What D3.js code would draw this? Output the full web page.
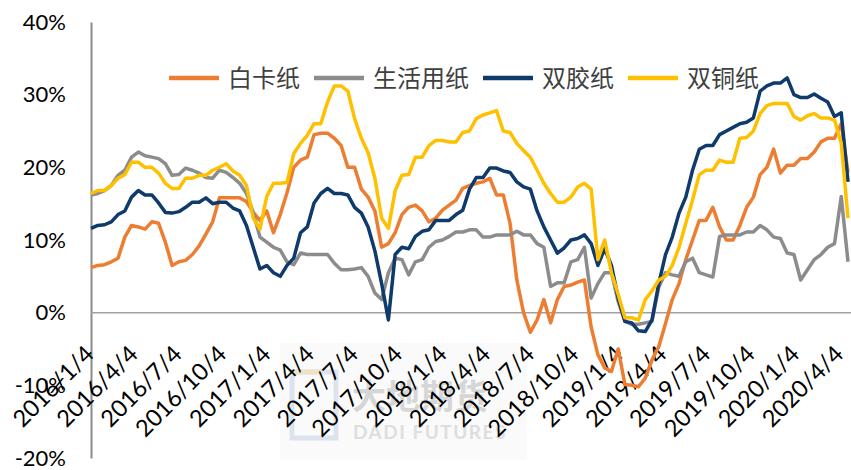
<!DOCTYPE html>
<html>
<head>
<meta charset="utf-8">
<script src="https://cdn.jsdelivr.net/npm/d3@7"></script>
<style>
  body { margin: 0; background: #fff; }
  svg { display: block; }
</style>
</head>
<body>
<div id="chart"></div>
<script>
// series, one value every two weeks from 2016/1/4 (percent)
const seriesNames = ["白卡纸", "生活用纸", "双胶纸", "双铜纸"];
const seriesColors = ["#ED7D31", "#8C8C8C", "#0E3A6C", "#FFC000"];
const startDate = "2016/1/4";
const stepDays = 14;

const baika = [6.2, 6.5, 6.6, 7.0, 7.5, 10.4, 12.0, 11.8, 11.5, 12.5, 12.3, 9.7, 6.5, 7.0, 7.2, 8.0, 9.2, 10.8, 12.5, 15.8,
  15.8, 15.8, 15.8, 15.3, 13.8, 12.7, 14.0, 11.0, 13.5, 16.5, 20.0, 21.0, 21.4, 24.5, 24.7, 24.7, 24.0, 23.0, 20.0, 20.0,
  17.0, 15.9, 14.0, 9.0, 9.5, 11.0, 13.5, 14.5, 14.8, 14.0, 12.5, 13.0, 14.1, 14.8, 15.5, 17.1, 17.5, 17.8, 18.0, 18.5,
  16.2, 16.2, 12.3, 4.5, 0.0, -2.7, -1.0, 1.8, -1.4, 1.8, 3.6, 3.8, 4.2, 4.5, -2.0, -5.8, -7.6, -8.1, -5.0, -9.9,
  -10.0, -10.2, -9.0, -6.5, -4.7, -1.5, 1.8, 4.0, 7.3, 10.0, 12.7, 12.7, 14.5, 11.8, 10.0, 10.0, 12.0, 14.5, 15.9, 19.0,
  20.0, 22.5, 19.2, 20.3, 20.3, 21.2, 21.2, 22.1, 23.5, 24.0, 24.0, 26.0, 19.3];

const shenghuo = [16.2, 16.4, 16.8, 17.5, 18.9, 19.6, 21.4, 22.1, 21.6, 21.4, 21.2, 20.5, 18.9, 19.0, 19.9, 19.6, 19.2, 18.6, 18.5, 19.6,
  19.3, 18.6, 17.8, 16.4, 13.8, 10.4, 9.7, 9.0, 8.6, 7.0, 6.6, 8.2, 8.0, 8.0, 8.0, 8.0, 6.8, 5.9, 5.9, 6.0,
  6.2, 5.0, 2.7, 1.8, 5.5, 7.5, 7.3, 5.2, 7.0, 7.3, 9.0, 9.8, 10.0, 10.5, 11.1, 11.1, 11.4, 11.4, 10.4, 10.4,
  10.7, 10.7, 10.7, 11.2, 10.7, 10.7, 9.5, 9.0, 3.6, 4.1, 4.1, 7.0, 7.3, 9.0, 2.0, 4.0, 5.5, 5.5, 1.5, -1.2,
  -1.6, -1.6, -1.4, -1.2, 3.5, 5.5, 5.2, 5.0, 7.0, 7.5, 5.5, 5.2, 4.9, 10.5, 10.7, 10.7, 10.7, 11.1, 11.1, 12.0,
  11.4, 10.4, 10.2, 8.2, 8.0, 4.5, 5.9, 7.3, 8.0, 9.0, 9.5, 16.0, 7.0];

const shuangjiao = [11.6, 12.0, 12.1, 12.5, 13.5, 14.0, 15.9, 16.8, 16.2, 16.2, 15.1, 13.8, 13.7, 13.9, 14.5, 15.2, 15.2, 15.8, 15.0, 15.2,
  15.2, 14.4, 14.0, 12.0, 9.0, 6.0, 6.5, 5.5, 5.0, 6.5, 7.5, 11.0, 11.8, 15.1, 16.4, 17.1, 16.4, 16.4, 16.2, 14.5,
  13.7, 11.8, 8.5, 4.0, -1.0, 8.0, 9.0, 8.8, 10.5, 11.2, 11.4, 12.7, 12.7, 12.7, 13.5, 14.1, 17.0, 18.6, 18.6, 19.9,
  19.9, 19.5, 19.3, 18.0, 17.3, 17.0, 14.0, 11.8, 10.0, 8.2, 8.9, 10.0, 10.2, 10.7, 9.5, 6.5, 8.8, 6.5, 2.0, -1.2,
  -1.4, -2.5, -2.6, -1.0, 4.0, 8.0, 10.4, 13.7, 15.9, 19.6, 22.5, 23.0, 23.0, 24.5, 25.0, 25.5, 26.0, 26.2, 26.8, 30.5,
  31.2, 31.6, 31.6, 32.3, 30.0, 29.6, 29.6, 30.1, 29.5, 29.0, 27.0, 27.5, 18.0];

const shuangtong = [16.4, 16.8, 16.8, 17.5, 18.5, 19.0, 20.7, 20.7, 20.0, 20.0, 19.2, 17.8, 17.1, 17.1, 18.5, 18.5, 18.9, 18.9, 19.6, 20.0,
  20.5, 19.5, 18.9, 17.5, 13.0, 11.5, 16.0, 17.8, 17.8, 17.9, 21.9, 23.3, 24.4, 26.0, 26.0, 29.0, 31.2, 31.2, 30.5, 26.7,
  24.0, 22.0, 18.5, 13.0, 11.6, 16.8, 18.9, 19.0, 21.4, 21.4, 23.0, 23.7, 23.7, 23.5, 23.5, 24.8, 25.0, 26.7, 27.2, 27.5,
  27.8, 25.0, 24.8, 23.3, 22.3, 21.4, 19.6, 17.8, 16.4, 15.2, 15.2, 15.9, 17.3, 17.8, 17.0, 7.3, 10.0, 5.5, 2.5, -0.7,
  -0.7, -1.0, 1.8, 3.0, 4.5, 5.0, 6.5, 9.0, 12.3, 15.5, 19.0, 19.6, 19.6, 21.0, 20.7, 20.7, 24.0, 24.1, 25.0, 27.4,
  28.5, 28.8, 28.8, 28.8, 27.0, 26.5, 27.1, 27.4, 26.8, 26.8, 26.5, 23.3, 13.0];

const yTicks = [-20, -10, 0, 10, 20, 30, 40];
const xTickLabels = ["2016/1/4", "2016/4/4", "2016/7/4", "2016/10/4", "2017/1/4", "2017/4/4", "2017/7/4",
  "2017/10/4", "2018/1/4", "2018/4/4", "2018/7/4", "2018/10/4", "2019/1/4", "2019/4/4", "2019/7/4",
  "2019/10/4", "2020/1/4", "2020/4/4"];

const W = 851, H = 470;
const parse = d3.timeParse("%Y/%m/%d");
const start = parse(startDate);
const dates = baika.map((_, i) => d3.timeDay.offset(start, i * stepDays));
const allSeries = [baika, shenghuo, shuangjiao, shuangtong];

const svg = d3.select("#chart").append("svg").attr("width", W).attr("height", H);

const x = d3.scaleTime().domain([dates[0], dates[dates.length - 1]]).range([91, 848]);
const y = d3.scaleLinear().domain([-20, 40]).range([458, 22]);

// faint watermark behind everything
const wm = svg.append("g").attr("class", "watermark");
wm.append("rect").attr("x", 280).attr("y", 343).attr("width", 247).attr("height", 117).attr("fill", "#fafafa");
wm.append("rect").attr("x", 292).attr("y", 372).attr("width", 44).attr("height", 66)
  .attr("fill", "none").attr("stroke", "#dde3ec").attr("stroke-width", 5);
wm.append("path").attr("d", "M292,372 h30").attr("stroke", "#eee3c8").attr("stroke-width", 5);
wm.append("text").attr("x", 352).attr("y", 409).text("大地期货")
  .style("font-family", "'Noto Sans CJK SC'").style("font-size", "34px").style("font-weight", "bold")
  .attr("fill", "#d6d6d6");
wm.append("text").attr("x", 353).attr("y", 439).text("DADI FUTURES")
  .style("font-family", "Lato").style("font-size", "19px").style("font-weight", "bold")
  .style("letter-spacing", "1.5px").attr("fill", "#dedede");

// y axis
const yAxis = svg.append("g").attr("transform", "translate(91,0)")
  .call(d3.axisLeft(y).tickValues(yTicks).tickFormat(d => d + "%").tickSize(0).tickPadding(25));
yAxis.select(".domain").attr("stroke", "#8c8c8c").attr("stroke-width", 2);
yAxis.selectAll("text").style("font-family", "Lato").style("font-size", "22px").attr("fill", "#000");

// zero line
svg.append("line").attr("x1", 91).attr("x2", W).attr("y1", y(0)).attr("y2", y(0))
  .attr("stroke", "#a0a0a0").attr("stroke-width", 1.5);

// x labels, rotated, ending at the tick
const xTicks = xTickLabels.map(parse);
const xAxis = svg.append("g").attr("transform", `translate(0,${y(0)})`)
  .call(d3.axisBottom(x).tickValues(xTicks).tickFormat((d, i) => xTickLabels[i]).tickSize(0));
xAxis.select(".domain").remove();
xAxis.selectAll("text")
  .attr("text-anchor", "end")
  .attr("y", 0).attr("dy", 0)
  .attr("transform", "translate(4,43) rotate(-45)")
  .style("font-family", "Lato").style("font-size", "23.5px").attr("fill", "#000");

// lines
const line = d3.line().x((d, i) => x(dates[i])).y(d => y(d));
svg.append("g").selectAll("path").data(allSeries).join("path")
  .attr("d", line)
  .attr("fill", "none")
  .attr("stroke", (d, i) => seriesColors[i])
  .attr("stroke-width", 3.5)
  .attr("stroke-linejoin", "round");

// legend
const legend = svg.append("g").attr("transform", "translate(169,78)");
let lx = 0;
seriesNames.forEach((name, i) => {
  legend.append("line").attr("x1", lx).attr("x2", lx + 50).attr("y1", 0).attr("y2", 0)
    .attr("stroke", seriesColors[i]).attr("stroke-width", 4.5);
  const t = legend.append("text").attr("x", lx + 59).attr("y", 0).attr("dy", "0.36em").text(name)
    .style("font-family", "'Noto Sans CJK SC'").style("font-size", "24px").attr("fill", "#404040");
  lx += 59 + t.node().getComputedTextLength() + 14;
});
</script>
</body>
</html>
